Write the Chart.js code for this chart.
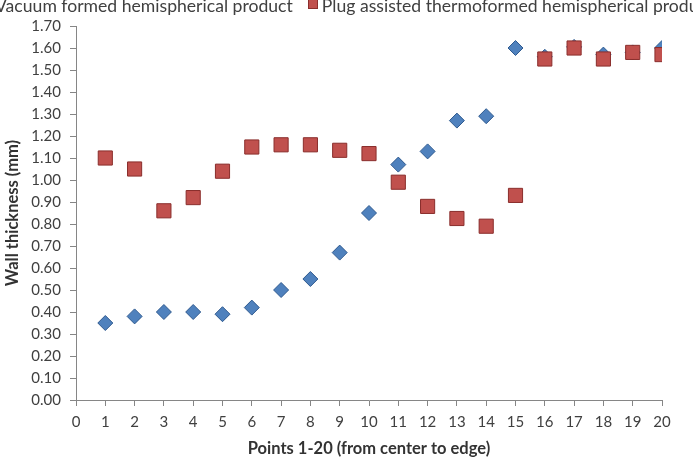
<!DOCTYPE html>
<html><head><meta charset="utf-8">
<script src="https://cdn.jsdelivr.net/npm/chart.js@4.4.1/dist/chart.umd.min.js"></script>
<style>
html,body{margin:0;padding:0;background:#fff;overflow:hidden;}
#wrap{position:relative;width:693px;height:468px;overflow:hidden;background:#fff;}
#c{position:absolute;left:0;top:0;}
#legend{position:absolute;left:-21px;top:-5px;white-space:nowrap;font-family:Lato,sans-serif;font-size:17.6px;color:#404040;line-height:20px;}
#legend span.item{display:inline-flex;align-items:center;}
#legend span.box{display:inline-block;width:10px;height:10px;box-sizing:border-box;border:1px solid;position:relative;top:-2px;}
</style></head>
<body><div id="wrap"><canvas id="c" width="693" height="468"></canvas><div id="legend"></div></div>
<script>
const points = [1,2,3,4,5,6,7,8,9,10,11,12,13,14,15,16,17,18,19,20];
const seriesNames = ['Vacuum formed hemispherical product', 'Plug assisted thermoformed hemispherical product'];
const vacuumFormed = [0.35,0.38,0.40,0.40,0.39,0.42,0.50,0.55,0.67,0.85,1.07,1.13,1.27,1.29,1.60,1.56,1.605,1.57,1.58,1.60];
const plugAssisted = [1.10,1.05,0.86,0.92,1.04,1.15,1.16,1.16,1.135,1.12,0.99,0.88,0.825,0.79,0.93,1.55,1.60,1.55,1.58,1.57];
const xTickMin = 0, xTickMax = 20, xTickStep = 1;
const yTickMin = 0, yTickMax = 1.7, yTickStep = 0.1;

const axisGray = '#868686';
const tickFont = {family:'Lato', size:15};
const titleFont = {family:'Lato', size:16.5, weight:'bold'};

const htmlLegend = {
  id:'htmlLegend',
  afterUpdate(chart){
    const el = document.getElementById('legend');
    el.innerHTML = '';
    chart.data.datasets.forEach((ds, i) => {
      const item = document.createElement('span');
      item.className = 'item';
      const box = document.createElement('span');
      box.className = 'box';
      box.style.background = ds.backgroundColor;
      box.style.borderColor = ds.borderColor;
      if (ds.pointStyle === 'rectRot') box.style.transform = 'rotate(45deg)';
      const txt = document.createElement('span');
      txt.textContent = ds.label;
      txt.style.marginLeft = i === 0 ? '6px' : '4px';
      item.appendChild(box); item.appendChild(txt);
      if (i > 0) item.style.marginLeft = '15px';
      el.appendChild(item);
    });
  }
};

new Chart(document.getElementById('c'), {
  type:'scatter',
  data:{
    datasets:[
      {label:seriesNames[0], data:points.map((p,i)=>({x:p,y:vacuumFormed[i]})), pointStyle:'rectRot', pointRadius:7.5, pointHoverRadius:7.5, backgroundColor:'#4F81BD', borderColor:'#2F5A8F', borderWidth:1, order:1},
      {label:seriesNames[1], data:points.map((p,i)=>({x:p,y:plugAssisted[i]})), pointStyle:'rect', pointRadius:10, pointHoverRadius:10, backgroundColor:'#C0504D', borderColor:'#8A2E2C', borderWidth:1, order:0}
    ]
  },
  options:{
    responsive:false, animation:false,
    layout:{padding:{top:26, right:31, left:0, bottom:0}},
    plugins:{legend:{display:false}, tooltip:{enabled:false}},
    scales:{
      x:{type:'linear', min:xTickMin, max:xTickMax,
        ticks:{stepSize:xTickStep, font:tickFont, color:'#404040', padding:7, maxRotation:0, autoSkip:false},
        grid:{display:true, drawOnChartArea:false, drawTicks:true, tickLength:6, color:axisGray},
        border:{display:true, color:axisGray, width:1},
        title:{display:true, text:'Points 1-20 (from center to edge)', font:titleFont, color:'#333', padding:{top:4,bottom:9}},
        afterFit(s){ s.height = 68; }
      },
      y:{type:'linear', min:yTickMin, max:yTickMax,
        ticks:{stepSize:yTickStep, font:tickFont, color:'#404040', padding:9, callback:v=>Number(v).toFixed(2)},
        grid:{display:true, drawOnChartArea:false, drawTicks:true, tickLength:6, color:axisGray},
        border:{display:true, color:axisGray, width:1},
        title:{display:true, text:'Wall thickness (mm)', font:titleFont, color:'#333', padding:{top:3,bottom:0}},
        afterFit(s){ s.width = 76; }
      }
    }
  },
  plugins:[htmlLegend]
});
</script>
</body></html>
